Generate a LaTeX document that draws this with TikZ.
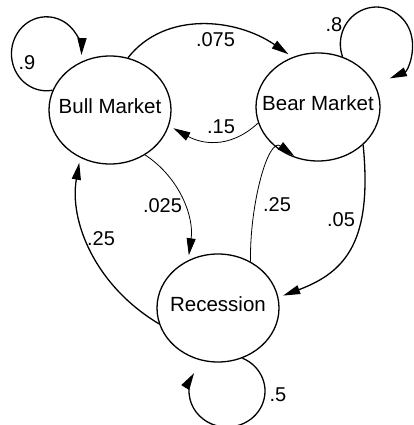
\documentclass[tikz,border=0pt]{standalone}
\usepackage{fontspec}
\setmainfont{Liberation Sans}
\usetikzlibrary{shapes.geometric,arrows.meta}
\begin{document}
\begin{tikzpicture}[x=1pt,y=1pt,
  state/.style={draw, ellipse, line width=1.3pt, inner sep=0pt, minimum width=122pt, minimum height=108pt},
  statetext/.style={font=\fontsize{20.5}{24}\selectfont, yshift=3.5pt},
  lbl/.style={font=\fontsize{20}{24}\selectfont, inner sep=0pt},
  tip/.style={-{Triangle[length=17pt,width=9pt]}},
  thick edge/.style={line width=1.3pt, tip, shorten >=5pt},
  thin edge/.style={line width=0.8pt, tip, shorten >=5pt},
  loop edge/.style={line width=1.3pt, tip}
]
\useasboundingbox (0,0) rectangle (414,-425);
\node[state, label={[statetext]center:Bull Market}] (bull) at (110,-110) {};
\node[state, minimum width=124pt, label={[statetext]center:Bear Market}] (bear) at (318,-107) {};
\node[state, label={[statetext]center:Recession}] (rec) at (218,-308) {};

% self loops
\draw[loop edge] (bull.161) arc[start angle=-80, end angle=-362, x radius=35, y radius=37];
\draw[loop edge] (bear.64) arc[start angle=200, end angle=-68, x radius=36, y radius=37];
\draw[loop edge] (rec.296) arc[start angle=66, end angle=-210, x radius=38, y radius=36];

% edges
\draw[thick edge] (bull.71) .. controls +(37,47) and +(-56.5,39) .. (bear.117);
\draw[thin edge] (bear.195) .. controls +(-30.2,-27.8) and +(30.6,-17) .. (bull.345);
\draw[thin edge] (bull.308) .. controls +(35,-23) and +(6,43) .. (rec.122.5);
\draw[thin edge] (rec.55) .. controls +(-1,57) and +(-30,22) .. (bear.249);
\draw[thick edge] (bear.320) .. controls +(9.3,-95.5) and +(68,25.5) .. (rec.10);
\draw[thick edge] (rec.195) .. controls +(-64.6,38.6) and +(-11,-62.5) .. (bull.238.6);

% labels
\node[lbl] (l9) at (27,-62.5) {.9};
\node[lbl] (l8) at (334,-24.5) {.8};
\node[lbl] (l5) at (278,-395) {.5};
\node[lbl] (l075) at (215.5,-40) {.075};
\node[lbl] (l15) at (221,-127) {.15};
\node[lbl] (l025) at (162.5,-205.5) {.025};
\node[lbl] (l25a) at (101,-238.5) {.25};
\node[lbl] (l25b) at (277,-204.5) {.25};
\node[lbl] (l05) at (341,-219.5) {.05};
\end{tikzpicture}
\end{document}
